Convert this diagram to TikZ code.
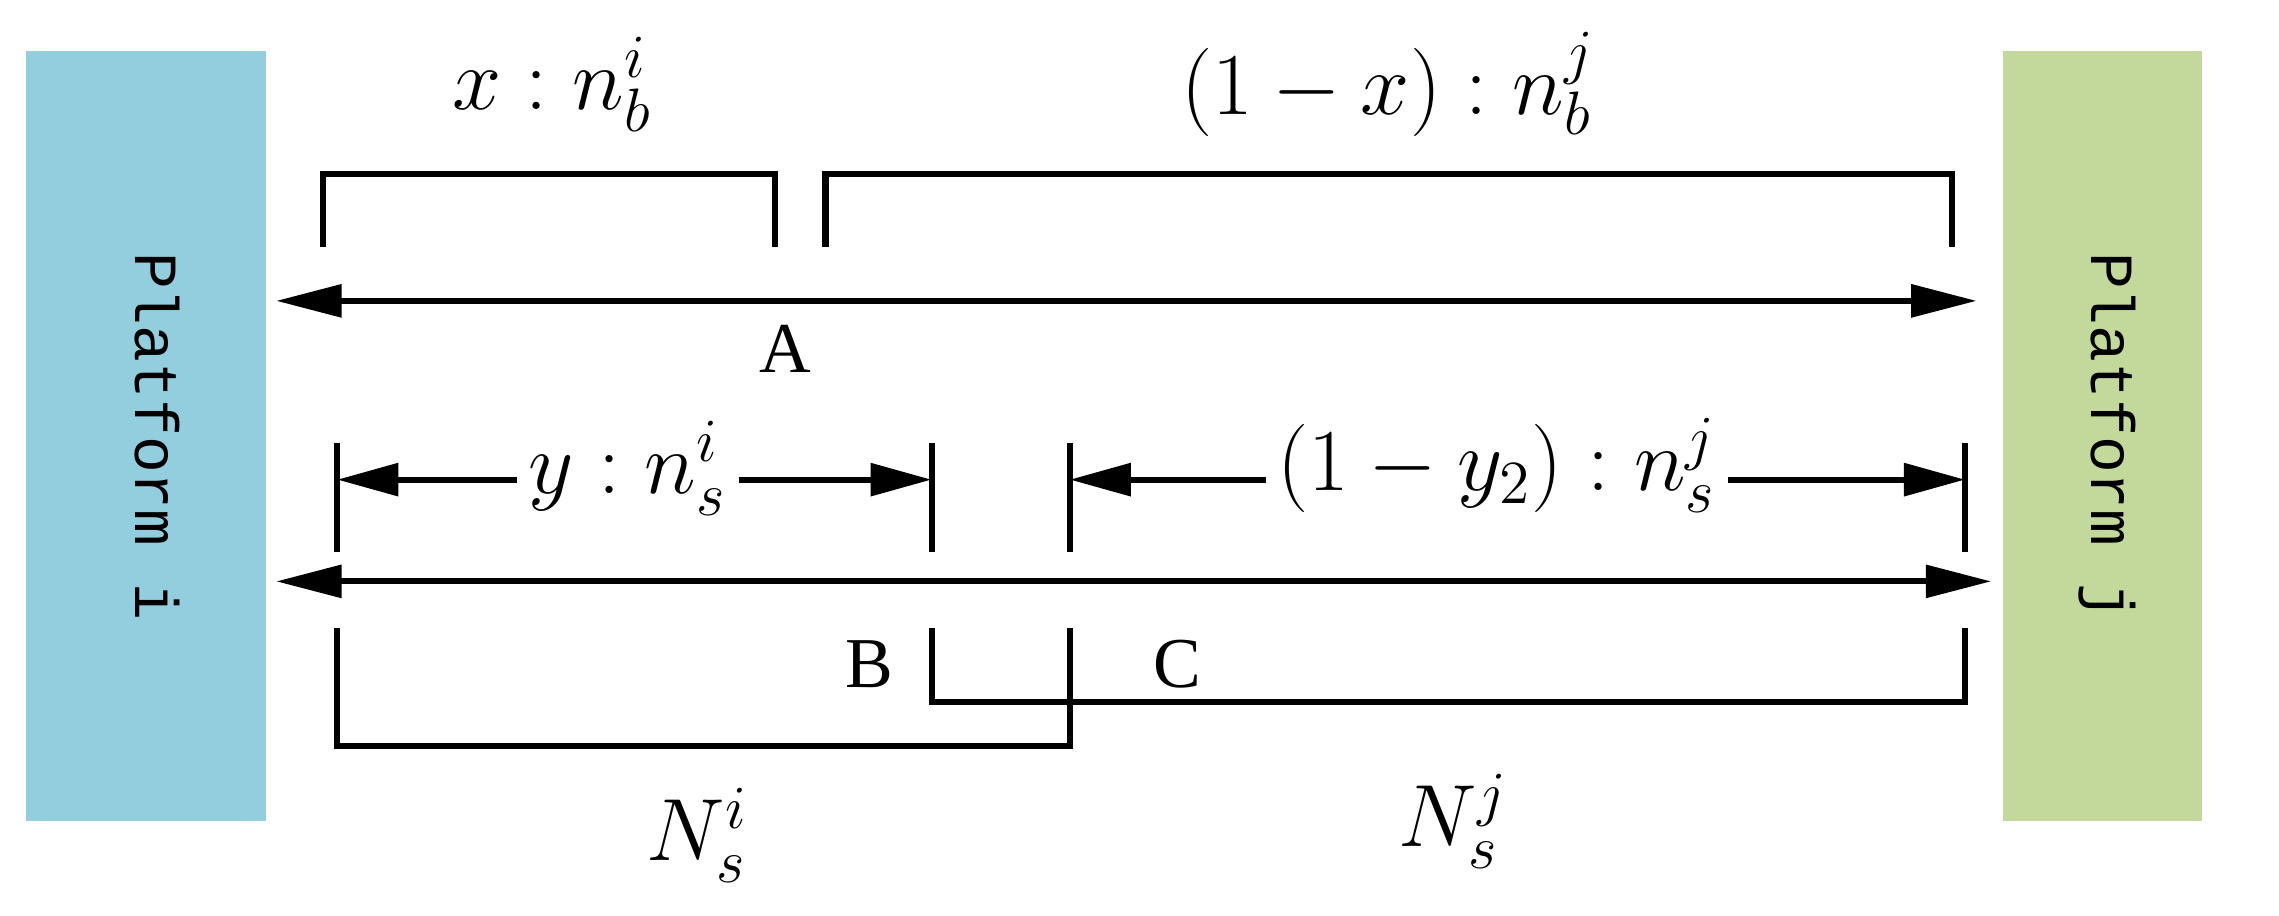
\documentclass[tikz,border=0pt]{standalone}
\usepackage{fontspec}
\setmainfont{Liberation Serif}
\newfontfamily\monof{Liberation Mono}
\usetikzlibrary{arrows.meta}
\begin{document}
\begin{tikzpicture}[x=0.01cm,y=-0.01cm,
  ln/.style={line width=1.2pt},
  tip/.style={Triangle[length=4.5mm,width=2.2mm]},
  arr/.style={ln,{Triangle[length=4.5mm,width=2.2mm]}-{Triangle[length=4.5mm,width=2.2mm]}},
  lbl/.style={font=\fontsize{18}{20}\selectfont},
  sm/.style={font=\fontsize{14}{16}\selectfont},
  plat/.style={font=\monof\fontsize{12}{14}\selectfont,rotate=-90}]
\useasboundingbox (0,0) rectangle (1568,630);
\definecolor{pblue}{HTML}{92CEDD}\definecolor{pgreen}{HTML}{C3D89B}
\fill[pblue] (18,35) rectangle (183,565);
\fill[pgreen] (1378,35) rectangle (1515,565);
\node[plat] (pi) at (108,300) {Platform i};
\node[plat] (pj) at (1450,300) {Platform j};
% row A
\coordinate (a1) at (190,207); \coordinate (a2) at (1360,207);
\draw[arr] (a1) -- (a2);
\node[sm] (A) at (540,240) {A};
\draw[ln] (222,170) -- (222,120) -- (533,120) -- (533,170);
\draw[ln] (568,170) -- (568,120) -- (1343,120) -- (1343,170);
\node[lbl] (xl) at (380,58) {$x:n_b^i$};
\node[lbl] (xr) at (955,58) {$\left(1-x\right):n_b^j$};
% row 2
\foreach \x/\n in {232/t1,641/t2,736/t3,1352/t4}
  \draw[ln] (\x,305) coordinate (\n) -- (\x,380);
\node[lbl,inner sep=2pt] (yl) at (432,322) {$y:n_s^i$};
\node[lbl,inner sep=2pt] (yr) at (1030,320) {$\left(1-y_2\right):n_s^j$};
\coordinate (l1) at (232,330); \coordinate (l2) at (641,330);
\coordinate (r1) at (736,330); \coordinate (r2) at (1352,330);
\draw[ln,-{Triangle[length=4.2mm,width=2.2mm]}] (yl.west |- l1) -- (l1);
\draw[ln,-{Triangle[length=4.2mm,width=2.2mm]}] (yl.east |- l2) -- (l2);
\draw[ln,-{Triangle[length=4.2mm,width=2.2mm]}] (yr.west |- r1) -- (r1);
\draw[ln,-{Triangle[length=4.2mm,width=2.2mm]}] (yr.east |- r2) -- (r2);
% row B
\coordinate (b1) at (190,400); \coordinate (b2) at (1370,400);
\draw[arr] (b1) -- (b2);
\draw[ln] (232,432) -- (232,513) -- (736,513) -- (736,432);
\draw[ln] (641,432) -- (641,483) -- (1352,483) -- (1352,432);
\node[sm] (B) at (598,457) {B};
\node[sm] (C) at (810,457) {C};
\node[lbl] (ni) at (480,575) {$N_s^i$};
\node[lbl] (nj) at (1000,565) {$N_s^j$};
\end{tikzpicture}
\end{document}
